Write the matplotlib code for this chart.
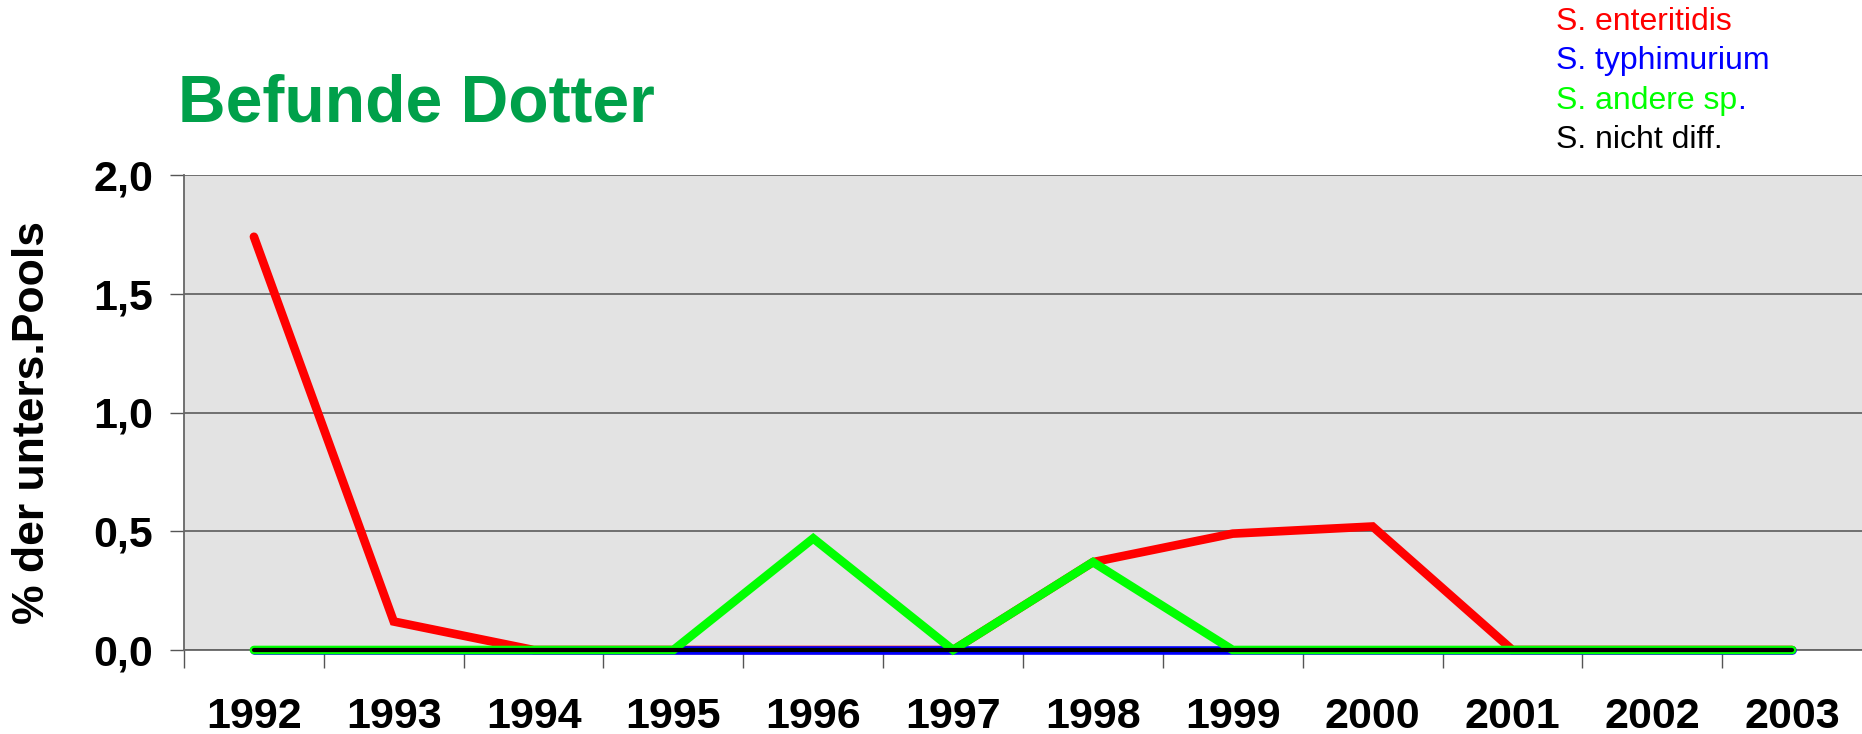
import numpy as np
import matplotlib
matplotlib.use('Agg')
import matplotlib.pyplot as plt
from matplotlib.text import Annotation
from matplotlib.ticker import FuncFormatter, FixedLocator

plt.rcParams['font.family'] = ['Liberation Sans', 'DejaVu Sans']

# data
years = ['1992', '1993', '1994', '1995', '1996', '1997',
         '1998', '1999', '2000', '2001', '2002', '2003']
enteritidis = [1.74, 0.12, 0, 0, 0, 0, 0.37, 0.49, 0.52, 0, 0, 0]
typhimurium = [0, 0, 0, 0, 0, 0, 0, 0, 0, 0, 0, 0]
andere = [0, 0, 0, 0, 0.47, 0, 0.37, 0, 0, 0, 0, 0]
nicht_diff = [0, 0, 0, 0, 0, 0, 0, 0, 0, 0, 0, 0]
y_ticks = [0.0, 0.5, 1.0, 1.5, 2.0]

W, H = 1862, 734
fig = plt.figure(figsize=(W / 100, H / 100), dpi=100)
ax = fig.add_axes([184 / W, 1 - 650 / H, 1 - 184 / W, (650 - 175) / H])
ax.set_facecolor('#e3e3e3')

x = np.arange(len(years))
kw = dict(solid_capstyle='round', solid_joinstyle='miter', clip_on=False)
ax.plot(x, enteritidis, c='#ff0000', lw=6.2, zorder=3, **kw)
ax.plot(x, typhimurium, c='#0000ff', lw=6.2, zorder=4, **kw)
ax.plot(x, andere, c='#00ff00', lw=6.2, zorder=5, **kw)
ax.plot(x, nicht_diff, c='k', lw=3, zorder=6, **kw)

ax.set_xlim(-0.5, len(years) - 0.5)
ax.set_ylim(0, 2.0)
ax.set_yticks(y_ticks)
ax.yaxis.set_major_formatter(FuncFormatter(lambda v, p: f'{v:.1f}'.replace('.', ',')))
ax.yaxis.grid(True, color='#666666', lw=1.3)
ax.set_axisbelow(True)

# category labels centred, tick marks between the categories
ax.xaxis.set_major_locator(FixedLocator(x - 0.5))
ax.xaxis.set_minor_locator(FixedLocator(x))
ax.set_xticklabels([])
ax.set_xticklabels(years, minor=True)
ax.tick_params(axis='x', which='major', length=13, width=1, color='#555555', direction='out')
ax.tick_params(axis='x', which='minor', length=0, pad=34, labelsize=31)
ax.tick_params(axis='y', length=10, width=1, color='#555555', pad=12, labelsize=31)
for lab in ax.get_xticklabels(minor=True) + ax.get_yticklabels():
    lab.set_fontweight('bold')

for s in ['top', 'right']:
    ax.spines[s].set_visible(False)
for s in ['left', 'bottom']:
    ax.spines[s].set_color('#666666')
    ax.spines[s].set_linewidth(1.3)

fig.text(178 / W, 1 - 121 / H, 'Befunde Dotter', color='#00a04a', fontsize=47.5,
         fontweight='bold', va='baseline', ha='left')
fig.text(33 / W, 1 - 422 / H, '% der unters.Pools', rotation=90, fontsize=32,
         fontweight='bold', ha='center', va='center')

# legend as coloured text
lx = 1556 / W
fs = 23
fig.text(lx, 1 - 22 / H, 'S. enteritidis', color='#ff0000', fontsize=fs, va='center')
fig.text(lx, 1 - 61 / H, 'S. typhimurium', color='#0000ff', fontsize=fs, va='center')
t = fig.text(lx, 1 - 101 / H, 'S. andere sp', color='#00ff00', fontsize=fs, va='center')
fig.add_artist(Annotation('.', xy=(1, 0), xycoords=t, va='bottom', ha='left',
                          color='#0000ff', fontsize=fs))
fig.text(lx, 1 - 140 / H, 'S. nicht diff.', color='k', fontsize=fs, va='center')

fig.savefig('out.png', dpi=100)
